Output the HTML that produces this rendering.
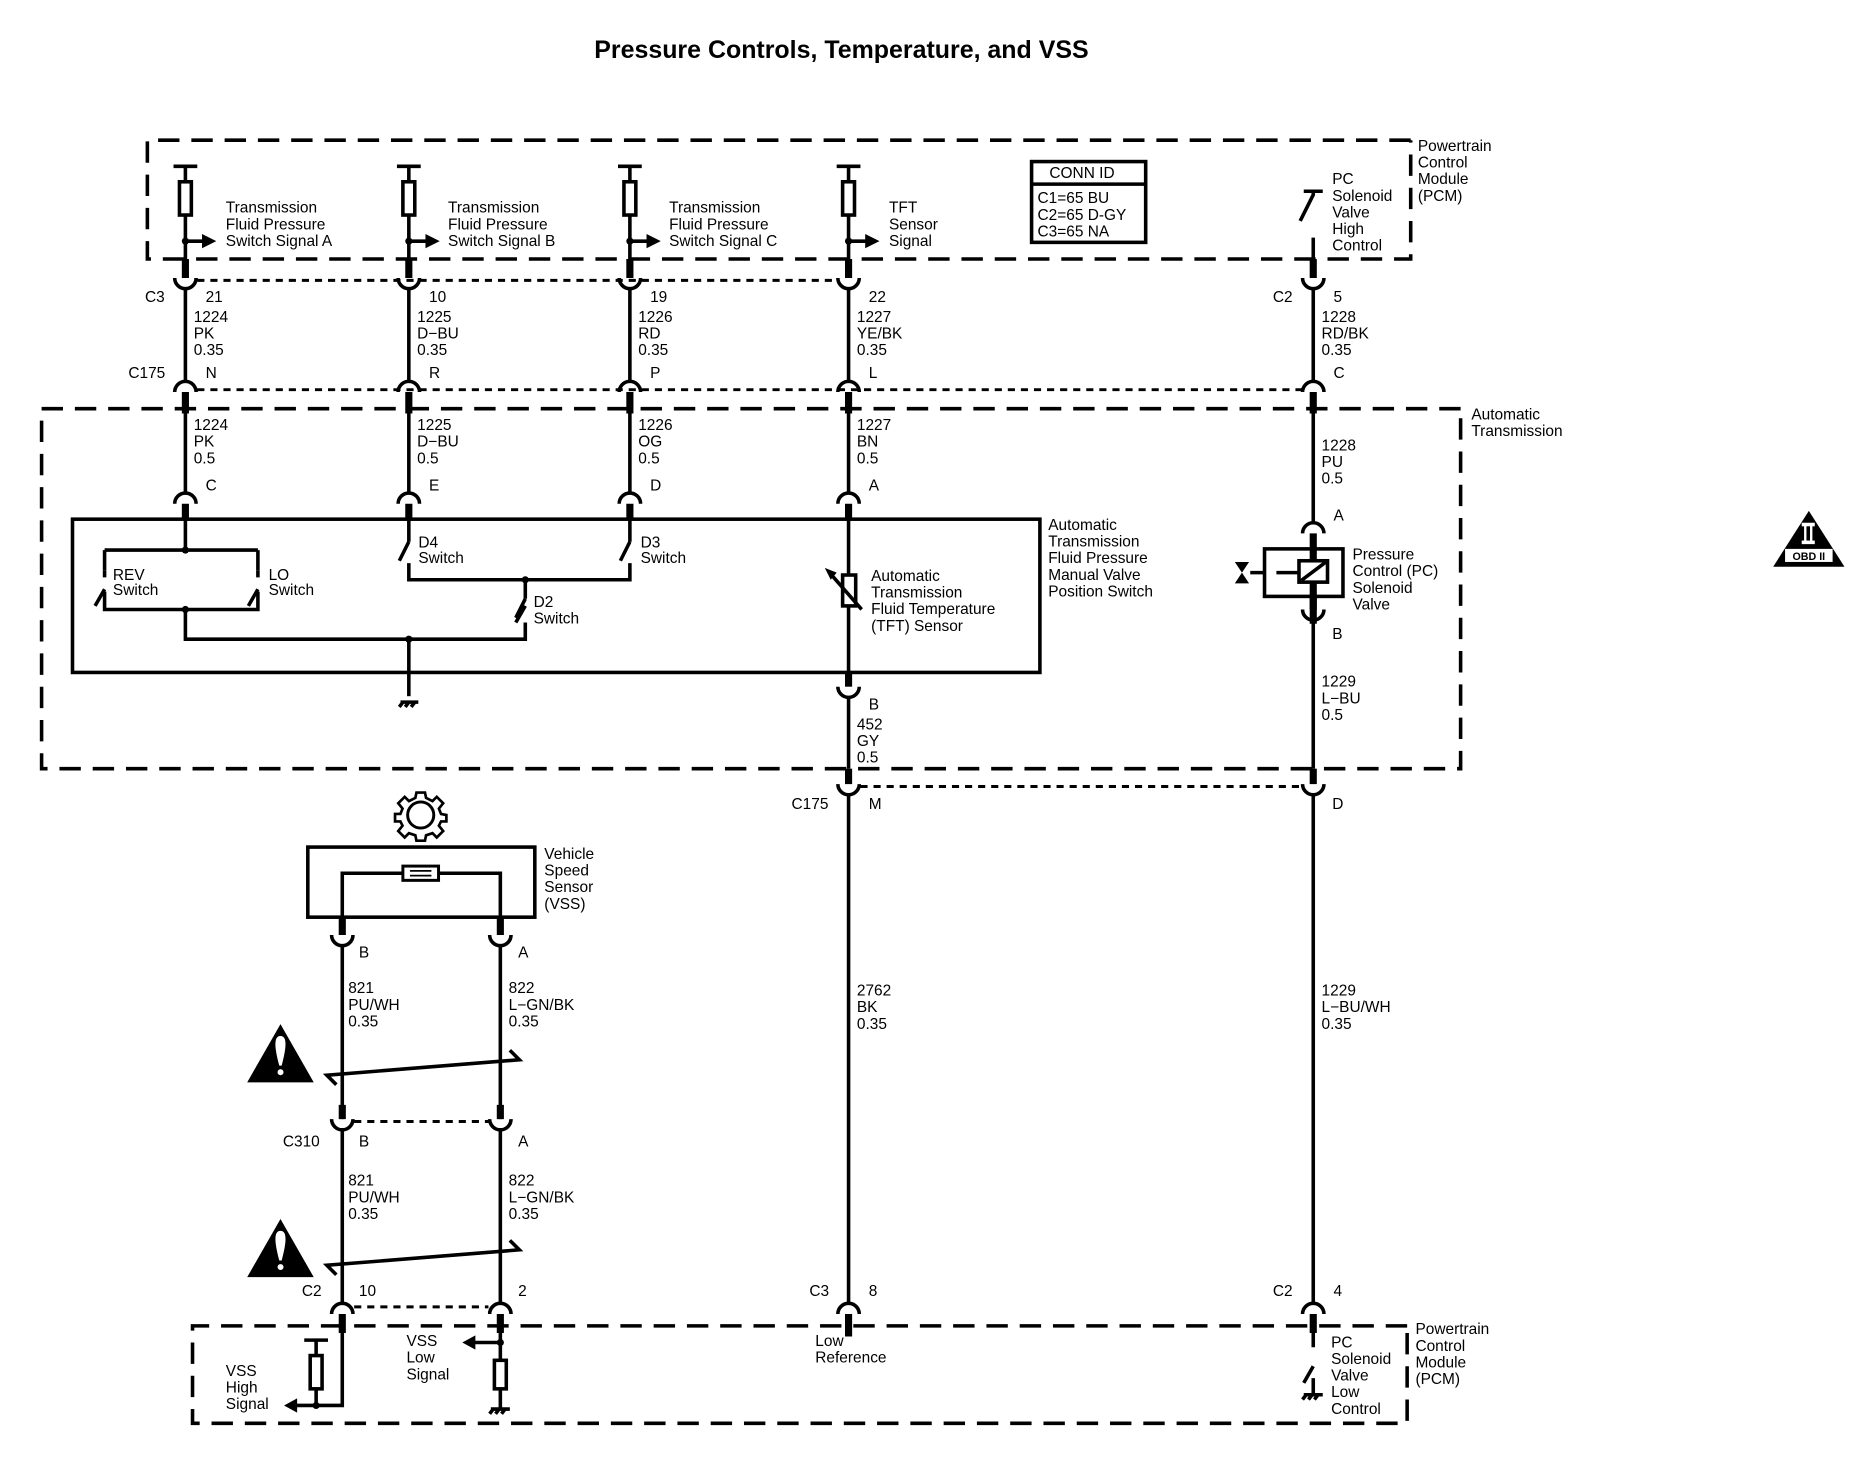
<!DOCTYPE html>
<html><head><meta charset="utf-8"><style>
html,body{margin:0;padding:0;background:#fff;}
svg{display:block;}
text{font-family:"Liberation Sans",Arial,sans-serif;font-size:13px;fill:#000;}
.t{font-size:21px;font-weight:bold;}
.w{stroke:#000;stroke-width:3;fill:none;}
.k{stroke:#000;stroke-width:6;fill:none;}
.d{stroke:#000;stroke-width:3;fill:none;stroke-dasharray:18 10;}
.o{stroke:#000;stroke-width:2.5;fill:none;stroke-dasharray:6 5;}
.a{stroke:#000;stroke-width:3;fill:none;}
</style></head><body>
<svg width="1854" height="1472" viewBox="0 0 1560 1239" preserveAspectRatio="none" xmlns="http://www.w3.org/2000/svg">
<text class="t" x="708" y="49" text-anchor="middle">Pressure Controls, Temperature, and VSS</text>

<path class="d" d="M1187 118 H124 V218 H1187 V118"/>
<text x="1193" y="127">Powertrain</text><text x="1193" y="141">Control</text><text x="1193" y="155">Module</text><text x="1193" y="169">(PCM)</text>

<rect x="868" y="136" width="96" height="68" fill="none" stroke="#000" stroke-width="3"/>
<line x1="868" y1="155" x2="964" y2="155" stroke="#000" stroke-width="3"/>
<text x="883" y="150">CONN ID</text>
<text x="873" y="171">C1=65 BU</text><text x="873" y="185">C2=65 D-GY</text><text x="873" y="199">C3=65 NA</text>

<g id="tops">
<path class="w" d="M146 140 H166 M156 140 V153 M156 181 V218"/><rect x="151" y="153" width="10" height="28" fill="none" stroke="#000" stroke-width="3"/><circle cx="156" cy="203" r="3"/><path class="w" d="M156 203 H172"/><path d="M170 197 L182 203 L170 209Z"/>
<path class="w" d="M334 140 H354 M344 140 V153 M344 181 V218"/><rect x="339" y="153" width="10" height="28" fill="none" stroke="#000" stroke-width="3"/><circle cx="344" cy="203" r="3"/><path class="w" d="M344 203 H360"/><path d="M358 197 L370 203 L358 209Z"/>
<path class="w" d="M520 140 H540 M530 140 V153 M530 181 V218"/><rect x="525" y="153" width="10" height="28" fill="none" stroke="#000" stroke-width="3"/><circle cx="530" cy="203" r="3"/><path class="w" d="M530 203 H546"/><path d="M544 197 L556 203 L544 209Z"/>
<path class="w" d="M704 140 H724 M714 140 V153 M714 181 V218"/><rect x="709" y="153" width="10" height="28" fill="none" stroke="#000" stroke-width="3"/><circle cx="714" cy="203" r="3"/><path class="w" d="M714 203 H730"/><path d="M728 197 L740 203 L728 209Z"/>
</g>
<text x="190" y="179">Transmission</text><text x="190" y="193">Fluid Pressure</text><text x="190" y="207">Switch Signal A</text>
<text x="377" y="179">Transmission</text><text x="377" y="193">Fluid Pressure</text><text x="377" y="207">Switch Signal B</text>
<text x="563" y="179">Transmission</text><text x="563" y="193">Fluid Pressure</text><text x="563" y="207">Switch Signal C</text>
<text x="748" y="179">TFT</text><text x="748" y="193">Sensor</text><text x="748" y="207">Signal</text>
<path class="w" d="M1097 161 H1113 M1105 161 V164 L1094 186 M1105 200 V218"/>
<text x="1121" y="155">PC</text><text x="1121" y="169">Solenoid</text><text x="1121" y="183">Valve</text><text x="1121" y="197">High</text><text x="1121" y="211">Control</text>

<path class="o" d="M166 236 H706"/>
<g>
<path class="k" d="M156 218 V234 M344 218 V234 M530 218 V234 M714 218 V234 M1105 218 V234"/>
<path class="a" d="M147 234 A9 9 0 0 0 165 234 M335 234 A9 9 0 0 0 353 234 M521 234 A9 9 0 0 0 539 234 M705 234 A9 9 0 0 0 723 234 M1096 234 A9 9 0 0 0 1114 234"/>
</g>
<text x="122" y="254">C3</text><text x="173" y="254">21</text><text x="361" y="254">10</text><text x="547" y="254">19</text><text x="731" y="254">22</text>
<text x="1071" y="254">C2</text><text x="1122" y="254">5</text>
<text x="163" y="271">1224</text><text x="163" y="285">PK</text><text x="163" y="299">0.35</text>
<text x="351" y="271">1225</text><text x="351" y="285">D−BU</text><text x="351" y="299">0.35</text>
<text x="537" y="271">1226</text><text x="537" y="285">RD</text><text x="537" y="299">0.35</text>
<text x="721" y="271">1227</text><text x="721" y="285">YE/BK</text><text x="721" y="299">0.35</text>
<text x="1112" y="271">1228</text><text x="1112" y="285">RD/BK</text><text x="1112" y="299">0.35</text>

<path class="w" d="M156 243 V321 M344 243 V321 M530 243 V321 M714 243 V321 M1105 243 V321"/>

<path class="o" d="M166 328 H1096"/>
<path class="a" d="M147 330 A9 9 0 0 1 165 330 M335 330 A9 9 0 0 1 353 330 M521 330 A9 9 0 0 1 539 330 M705 330 A9 9 0 0 1 723 330 M1096 330 A9 9 0 0 1 1114 330"/>
<path class="k" d="M156 330 V348 M344 330 V348 M530 330 V348 M714 330 V348 M1105 330 V348"/>
<text x="108" y="318">C175</text><text x="173" y="318">N</text><text x="361" y="318">R</text><text x="547" y="318">P</text><text x="731" y="318">L</text><text x="1122" y="318">C</text>

<path class="d" d="M1229 344 H35 V647 H1229 V344"/>
<text x="1238" y="353">Automatic</text><text x="1238" y="367">Transmission</text>

<path class="w" d="M156 348 V415 M344 348 V415 M530 348 V415 M714 348 V415 M1105 348 V440"/>
<text x="163" y="362">1224</text><text x="163" y="376">PK</text><text x="163" y="390">0.5</text>
<text x="351" y="362">1225</text><text x="351" y="376">D−BU</text><text x="351" y="390">0.5</text>
<text x="537" y="362">1226</text><text x="537" y="376">OG</text><text x="537" y="390">0.5</text>
<text x="721" y="362">1227</text><text x="721" y="376">BN</text><text x="721" y="390">0.5</text>
<text x="1112" y="379">1228</text><text x="1112" y="393">PU</text><text x="1112" y="407">0.5</text>

<path class="a" d="M147 424 A9 9 0 0 1 165 424 M335 424 A9 9 0 0 1 353 424 M521 424 A9 9 0 0 1 539 424 M705 424 A9 9 0 0 1 723 424"/>
<path class="k" d="M156 424 V437 M344 424 V437 M530 424 V437 M714 424 V437"/>
<text x="173" y="413">C</text><text x="361" y="413">E</text><text x="547" y="413">D</text><text x="731" y="413">A</text>

<rect x="61" y="437" width="814" height="129" fill="none" stroke="#000" stroke-width="3"/>
<text x="882" y="446">Automatic</text><text x="882" y="460">Transmission</text><text x="882" y="474">Fluid Pressure</text><text x="882" y="488">Manual Valve</text><text x="882" y="502">Position Switch</text>

<path class="w" d="M156 437 V463 M88 463 H217 M88 463 V480 M88 496 L80 510 M88 498 V513 H217 V498 M217 496 L209 510 M217 463 V480 M156 513 V538 H442 V524 M442 510 L434 524 M442 490 V488"/>
<circle cx="156" cy="463" r="3"/><circle cx="156" cy="513" r="3"/>
<path class="w" d="M88 480 V486 M217 480 V486"/>
<text x="95" y="488">REV</text><text x="95" y="501">Switch</text>
<text x="226" y="488">LO</text><text x="226" y="501">Switch</text>
<path class="w" d="M344 437 V456 M344 456 L336 472 M344 474 V488 H530 V474 M530 456 L522 472 M530 437 V456"/>
<circle cx="442" cy="488" r="3"/>
<path class="w" d="M442 488 V504 M442 504 L434 520"/>
<text x="352" y="461">D4</text><text x="352" y="474">Switch</text>
<text x="539" y="461">D3</text><text x="539" y="474">Switch</text>
<text x="449" y="511">D2</text><text x="449" y="525">Switch</text>
<circle cx="344" cy="538" r="3"/>
<path class="w" d="M344 538 V586"/>
<path class="w" d="M337 591 H352 M339 591 L336 595 M344 591 L341 595 M349 591 L346 595" stroke-width="2"/>
<path class="w" d="M714 437 V566"/>
<rect x="709" y="484" width="11" height="26" fill="#fff" stroke="#000" stroke-width="3"/>
<path class="w" d="M725 513 L698 482" stroke-width="2.5"/><path d="M694 478 L704 482 L699 488Z"/>
<text x="733" y="489">Automatic</text><text x="733" y="503">Transmission</text><text x="733" y="517">Fluid Temperature</text><text x="733" y="531">(TFT) Sensor</text>

<path class="k" d="M714 566 V578"/>
<path class="a" d="M705 578 A9 9 0 0 0 723 578"/>
<text x="731" y="597">B</text>
<text x="721" y="614">452</text><text x="721" y="628">GY</text><text x="721" y="642">0.5</text>
<path class="w" d="M714 587 V647"/>
<path class="k" d="M714 647 V660"/>
<path class="a" d="M705 660 A9 9 0 0 0 723 660"/>

<path class="a" d="M1096 449 A9 9 0 0 1 1114 449"/>
<text x="1122" y="438">A</text>
<path class="k" d="M1105 449 V525"/>
<rect x="1064" y="462" width="66" height="40" fill="#fff" stroke="#000" stroke-width="3"/>
<rect x="1093" y="472" width="24" height="18" fill="#fff" stroke="#000" stroke-width="3"/>
<path class="w" d="M1093 490 L1117 472" stroke-width="2"/>
<path class="k" d="M1105 462 V472 M1105 490 V513" />
<path class="w" d="M1052 482 H1064 M1074 482 H1093" stroke-width="2"/>
<path d="M1039 473 H1051 L1045 482Z M1039 491 H1051 L1045 482Z"/>
<path class="a" d="M1096 513 A9 9 0 0 0 1114 513"/>
<text x="1138" y="471">Pressure</text><text x="1138" y="485">Control (PC)</text><text x="1138" y="499">Solenoid</text><text x="1138" y="513">Valve</text>
<text x="1121" y="538">B</text>
<path class="w" d="M1105 522 V647"/>
<text x="1112" y="578">1229</text><text x="1112" y="592">L−BU</text><text x="1112" y="606">0.5</text>
<path class="k" d="M1105 647 V660"/>
<path class="a" d="M1096 660 A9 9 0 0 0 1114 660"/>
<path class="o" d="M724 662 H1096"/>
<text x="666" y="681">C175</text><text x="731" y="681">M</text><text x="1121" y="681">D</text>

<path class="w" d="M714 669 V1097 M1105 669 V1097"/>
<text x="721" y="838">2762</text><text x="721" y="852">BK</text><text x="721" y="866">0.35</text>
<text x="1112" y="838">1229</text><text x="1112" y="852">L−BU/WH</text><text x="1112" y="866">0.35</text>
<path class="a" d="M705 1106 A9 9 0 0 1 723 1106 M1096 1106 A9 9 0 0 1 1114 1106"/>
<path class="k" d="M714 1106 V1125 M1105 1106 V1122"/>
<text x="681" y="1091">C3</text><text x="731" y="1091">8</text>
<text x="1071" y="1091">C2</text><text x="1122" y="1091">4</text>

<path d="M1522 430 L1552 477 H1492Z"/>
<rect x="1516" y="440" width="11" height="3" fill="#fff"/><rect x="1516" y="455" width="11" height="3" fill="#fff"/>
<rect x="1518" y="441" width="2" height="15" fill="#fff"/><rect x="1523" y="441" width="2" height="15" fill="#fff"/>
<rect x="1502" y="462" width="40" height="11" fill="#fff"/>
<text x="1522" y="471.5" text-anchor="middle" style="font-size:9px;font-weight:bold">OBD II</text>

<g transform="translate(354,686)">
<circle r="11" fill="none" stroke="#000" stroke-width="2.5"/>
<path fill="none" stroke="#000" stroke-width="2.5" d="M-4 -21 H4 L5 -16 L11 -13 L15 -17 L21 -11 L17 -6 L19 -1 L24 0 V0 L24 6 L19 6 L17 10 L21 15 L15 21 L11 17 L5 19 L4 24 H-4 L-5 19 L-11 17 L-15 21 L-21 15 L-17 10 L-19 6 L-24 6 L-24 -1 L-19 -1 L-17 -6 L-21 -11 L-15 -17 L-11 -13 L-5 -16 Z" transform="scale(0.9)"/>
</g>
<rect x="259" y="713" width="191" height="59" fill="none" stroke="#000" stroke-width="3"/>
<path class="w" d="M288 772 V735 H339 M369 735 H421 V772"/>
<rect x="339" y="729" width="30" height="12" fill="#fff" stroke="#000" stroke-width="2.5"/>
<path d="M345 733 H363 M345 737 H363" stroke="#000" stroke-width="1.5"/>
<text x="458" y="723">Vehicle</text><text x="458" y="737">Speed</text><text x="458" y="751">Sensor</text><text x="458" y="765">(VSS)</text>
<path class="k" d="M288 772 V787 M421 772 V787"/>
<path class="a" d="M279 787 A9 9 0 0 0 297 787 M412 787 A9 9 0 0 0 430 787"/>
<text x="302" y="806">B</text><text x="436" y="806">A</text>
<path class="w" d="M288 796 V942 M421 796 V942"/>
<text x="293" y="836">821</text><text x="293" y="850">PU/WH</text><text x="293" y="864">0.35</text>
<text x="428" y="836">822</text><text x="428" y="850">L−GN/BK</text><text x="428" y="864">0.35</text>
<path class="w" d="M283 913 L275 905 L437 892 L429 884" stroke-width="2.5"/>
<path d="M236 862 L264 911 H208Z"/><path d="M236 872 C230 872 231 882 235 897 H237 C241 882 242 872 236 872Z M236 900 a2.5 2.5 0 1 0 0.1 0Z" fill="#fff"/>
<path class="k" d="M288 930 V942 M421 930 V942"/>
<path class="a" d="M279 942 A9 9 0 0 0 297 942 M412 942 A9 9 0 0 0 430 942"/>
<path class="o" d="M298 944 H411"/>
<text x="238" y="965">C310</text><text x="302" y="965">B</text><text x="436" y="965">A</text>
<path class="w" d="M288 951 V1097 M421 951 V1097"/>
<text x="293" y="998">821</text><text x="293" y="1012">PU/WH</text><text x="293" y="1026">0.35</text>
<text x="428" y="998">822</text><text x="428" y="1012">L−GN/BK</text><text x="428" y="1026">0.35</text>
<path class="w" d="M283 1073 L275 1065 L437 1052 L429 1044" stroke-width="2.5"/>
<path d="M236 1026 L264 1075 H208Z"/><path d="M236 1036 C230 1036 231 1046 235 1061 H237 C241 1046 242 1036 236 1036Z M236 1064 a2.5 2.5 0 1 0 0.1 0Z" fill="#fff"/>
<path class="a" d="M279 1106 A9 9 0 0 1 297 1106 M412 1106 A9 9 0 0 1 430 1106"/>
<path class="o" d="M298 1100 H411"/>
<text x="254" y="1091">C2</text><text x="302" y="1091">10</text><text x="436" y="1091">2</text>
<path class="k" d="M288 1106 V1122 M421 1106 V1122"/>

<path class="d" d="M1184 1116 H162 V1198 H1184 V1116"/>
<text x="1191" y="1123">Powertrain</text><text x="1191" y="1137">Control</text><text x="1191" y="1151">Module</text><text x="1191" y="1165">(PCM)</text>
<path class="w" d="M288 1116 V1183 H248"/>
<path d="M250 1177 L239 1183 L250 1189Z"/>
<path class="w" d="M256 1128 H276 M266 1128 V1141 M266 1169 V1183"/>
<rect x="261" y="1141" width="10" height="28" fill="none" stroke="#000" stroke-width="3"/>
<circle cx="266" cy="1183" r="3"/>
<text x="190" y="1158">VSS</text><text x="190" y="1172">High</text><text x="190" y="1186">Signal</text>
<path class="w" d="M421 1116 V1145 M421 1169 V1185 M421 1130 H398"/>
<path d="M400 1124 L389 1130 L400 1136Z"/>
<circle cx="421" cy="1130" r="3"/>
<rect x="416" y="1145" width="10" height="24" fill="none" stroke="#000" stroke-width="3"/>
<path class="w" d="M413 1186 H429 M415 1186 L412 1190 M420 1186 L417 1190 M425 1186 L422 1190" stroke-width="2"/>
<text x="342" y="1133">VSS</text><text x="342" y="1147">Low</text><text x="342" y="1161">Signal</text>
<text x="686" y="1133">Low</text><text x="686" y="1147">Reference</text>
<path class="w" d="M1105 1116 V1134 M1105 1150 L1097 1164 M1105 1160 V1174"/>
<path class="w" d="M1097 1174 H1113 M1099 1174 L1096 1178 M1104 1174 L1101 1178 M1109 1174 L1106 1178" stroke-width="2"/>
<text x="1120" y="1134">PC</text><text x="1120" y="1148">Solenoid</text><text x="1120" y="1162">Valve</text><text x="1120" y="1176">Low</text><text x="1120" y="1190">Control</text>
</svg>
</body></html>
